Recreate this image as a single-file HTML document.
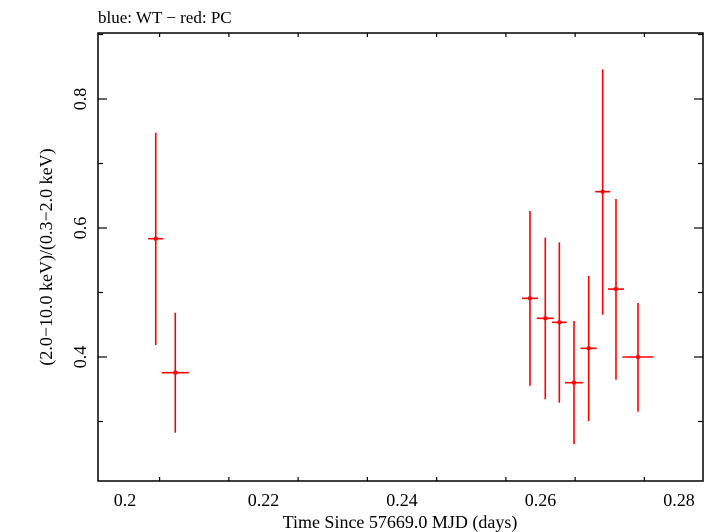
<!DOCTYPE html>
<html><head><meta charset="utf-8"><style>
body{margin:0;background:#fff}
svg{display:block;font-family:"Liberation Serif",serif}
</style></head><body>
<svg id="chart" width="710" height="532">
<text x="98" y="23" font-size="17">blue: WT − red: PC</text>
<rect x="98" y="33" width="605" height="448" fill="none" stroke="#000" stroke-width="1.5"/>
<g id="ticks"></g>
<g id="marks"></g>
<text x="400" y="528" font-size="18" text-anchor="middle">Time Since 57669.0 MJD (days)</text>
<text transform="translate(52,257) rotate(-90)" font-size="18" text-anchor="middle">(2.0−10.0 keV)/(0.3−2.0 keV)</text>
</svg>
<script>
const xVals=[0.20444,0.20726,0.25848,0.26069,0.26272,0.26484,0.26696,0.26898,0.2709,0.27408];
const xErr=[0.0011,0.00195,0.00116,0.00123,0.00106,0.0013,0.00116,0.00108,0.00116,0.00224];
const yVals=[0.5834,0.3757,0.491,0.46,0.4538,0.3602,0.4135,0.6563,0.5054,0.4];
const yHi=[0.7478,0.4687,0.6264,0.585,0.5778,0.4558,0.5256,0.846,0.645,0.4837];
const yLo=[0.4186,0.2826,0.3555,0.3344,0.3291,0.2651,0.3008,0.4656,0.3648,0.3152];
const xTicks=[0.2,0.22,0.24,0.26,0.28];
const xTickLabels=["0.2","0.22","0.24","0.26","0.28"];
const yTicks=[0.4,0.6,0.8];
const yTickLabels=["0.4","0.6","0.8"];
const NS="http://www.w3.org/2000/svg";
function sx(v){return 125+(v-0.2)*6925;}
function sy(v){return 357-(v-0.4)*645;}
function mk(tag,attrs,parent){const e=document.createElementNS(NS,tag);for(const k in attrs)e.setAttribute(k,attrs[k]);parent.appendChild(e);return e;}
const T=document.getElementById('ticks'),M=document.getElementById('marks');
// minor x ticks
for(let i=0;i<=9;i++){const v=0.195+i*0.01;const x=sx(v);if(x<98||x>703)continue;
 const major=xTicks.some(t=>Math.abs(t-v)<1e-9);const L=major?8:4;
 let l=mk('line',{x1:x,x2:x,y1:481,y2:481-L,stroke:'#000','stroke-width':1.2},T);
 
 l=mk('line',{x1:x,x2:x,y1:33,y2:33+L,stroke:'#000','stroke-width':1.2},T);
 }
for(let i=0;i<8;i++){const v=0.3+i*0.1;const y=sy(v);if(y<33||y>481)continue;
 const major=yTicks.some(t=>Math.abs(t-v)<1e-9);const L=major?9:5;
 let l=mk('line',{x1:98,x2:98+L,y1:y,y2:y,stroke:'#000','stroke-width':1.2},T);
 
 l=mk('line',{x1:703,x2:703-L,y1:y,y2:y,stroke:'#000','stroke-width':1.2},T);
 }
xTicks.forEach((v,i)=>{const t=mk('text',{x:sx(v),y:506,'font-size':18,'text-anchor':'middle'},T);t.textContent=xTickLabels[i];
 });
yTicks.forEach((v,i)=>{const t=mk('text',{transform:`translate(86,${sy(v)}) rotate(-90)`,'font-size':18,'text-anchor':'middle'},T);t.textContent=yTickLabels[i];
 });
xVals.forEach((v,i)=>{const g=mk('g',{stroke:'#f00','stroke-width':1.6},M);
 
 const x=sx(v),y=sy(yVals[i]);
 mk('line',{x1:x,x2:x,y1:sy(yHi[i]),y2:sy(yLo[i])},g);
 mk('line',{x1:sx(v-xErr[i]),x2:sx(v+xErr[i]),y1:y,y2:y},g);
 mk('rect',{x:x-1.8,y:y-1.8,width:3.6,height:3.6,fill:'#f00',stroke:'none'},g);});
</script>
</body></html>
